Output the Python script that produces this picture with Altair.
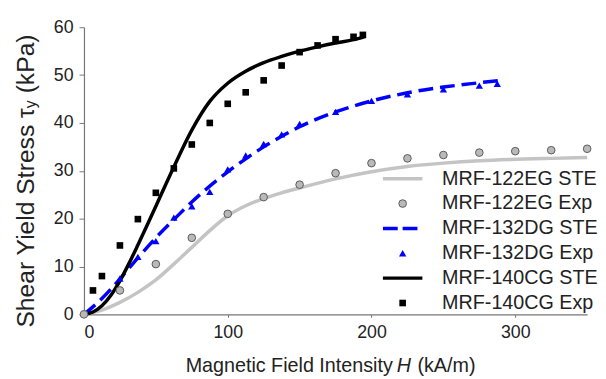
import altair as alt
import pandas as pd

# ---------------- data ----------------
# MRF-122EG
H_122_ste = [0, 12.5, 25, 37.5, 50, 62.5, 75, 87.5, 100, 112.5, 125, 137.5, 150, 175, 200, 225, 250, 275, 300, 325, 350]
T_122_ste = [0, 0.9, 2.5, 4.6, 7.2, 10.5, 14.0, 17.5, 20.6, 22.7, 24.2, 25.4, 26.4, 28.3, 29.8, 30.9, 31.6, 32.1, 32.4, 32.6, 32.8]
H_122_exp = [0, 25, 50, 75, 100, 125, 150, 175, 200, 225, 250, 275, 300, 325, 350]
T_122_exp = [0, 5.0, 10.5, 16.0, 21.0, 24.5, 27.1, 29.5, 31.6, 32.6, 33.3, 33.8, 34.1, 34.3, 34.6]

# MRF-132DG
H_132_ste = [0, 12.5, 25, 37.5, 50, 62.5, 75, 87.5, 100, 112.5, 125, 137.5, 150, 175, 200, 225, 250, 275, 290]
T_132_ste = [0, 3.3, 7.4, 11.8, 16.0, 19.8, 23.5, 26.8, 29.8, 32.5, 35.0, 37.2, 39.2, 42.3, 44.6, 46.3, 47.5, 48.4, 48.9]
H_132_exp = [25, 37.5, 50, 62.5, 75, 87.5, 100, 112.5, 125, 137.5, 150, 175, 200, 225, 250, 275, 287.5]
T_132_exp = [7.5, 12.0, 15.3, 20.2, 22.6, 25.6, 30.3, 33.2, 35.6, 37.6, 39.8, 42.3, 44.6, 46.0, 47.0, 47.8, 48.2]

# MRF-140CG
H_140_ste = [0, 6.25, 12.5, 18.75, 25, 31.25, 37.5, 43.75, 50, 62.5, 75, 87.5, 100, 112.5, 125, 137.5, 150, 162.5, 175, 187.5, 195]
T_140_ste = [0, 0.5, 1.8, 4.0, 7.0, 10.6, 14.5, 18.5, 22.6, 30.8, 38.5, 44.5, 48.3, 50.8, 52.6, 53.9, 55.0, 55.9, 56.7, 57.4, 58.0]
H_140_exp = [6.25, 12.5, 25, 37.5, 50, 62.5, 75, 87.5, 100, 112.5, 125, 137.5, 150, 162.5, 175, 187.5, 194]
T_140_exp = [5.0, 8.0, 14.4, 19.9, 25.4, 30.5, 35.5, 40.0, 44.0, 46.4, 48.9, 52.0, 54.8, 56.2, 57.5, 58.0, 58.4]

x_ticks = [0, 100, 200, 300]
y_ticks = [0, 10, 20, 30, 40, 50, 60]

legend_labels = ["MRF-122EG STE", "MRF-122EG Exp", "MRF-132DG STE",
                 "MRF-132DG Exp", "MRF-140CG STE", "MRF-140CG Exp"]

FONT = "Liberation Sans"
GRAY_LINE = "#c4c4c4"
GRAY_FILL = "#b9b9b9"
GRAY_EDGE = "#5a5a5a"
BLUE = "#0000ff"
BLACK = "#000000"

W, H = 510, 291

xs = alt.Scale(domain=[0, 350], nice=False, zero=False)
ys = alt.Scale(domain=[0, 60], nice=False)

x_axis = alt.Axis(values=x_ticks, title=None, grid=False, tickSize=3, labelPadding=6,
                  labelFontSize=18, labelFont=FONT, labelColor="#222222",
                  domainColor="#777777", tickColor="#777777", domainWidth=1.2)
y_axis = alt.Axis(values=y_ticks, title=None, grid=False, tickSize=5, labelPadding=6,
                  labelFontSize=18, labelFont=FONT, labelColor="#222222",
                  domainColor="#777777", tickColor="#777777", domainWidth=1.2)


def df(h, t):
    return pd.DataFrame({"H": h, "tau": t})


def enc(chart):
    return chart.encode(
        x=alt.X("H:Q", scale=xs, axis=x_axis),
        y=alt.Y("tau:Q", scale=ys, axis=y_axis),
    )


line122 = enc(alt.Chart(df(H_122_ste, T_122_ste)).mark_line(
    color=GRAY_LINE, strokeWidth=3.5, interpolate="monotone"))
line132 = enc(alt.Chart(df(H_132_ste, T_132_ste)).mark_line(
    color=BLUE, strokeWidth=3.5, strokeDash=[15, 7], interpolate="monotone"))
line140 = enc(alt.Chart(df(H_140_ste, T_140_ste)).mark_line(
    color=BLACK, strokeWidth=3.5, interpolate="monotone"))

pts140 = enc(alt.Chart(df(H_140_exp, T_140_exp)).mark_point(
    shape="square", filled=True, color=BLACK, size=45, opacity=1))
pts132 = enc(alt.Chart(df(H_132_exp, T_132_exp)).mark_point(
    shape="triangle-up", filled=True, color=BLUE, size=55, opacity=1))
pts122 = enc(alt.Chart(df(H_122_exp, T_122_exp)).mark_point(
    shape="circle", filled=True, fill=GRAY_FILL, stroke=GRAY_EDGE, strokeWidth=1,
    size=60, opacity=1))

layers = [line122, line132, line140, pts140, pts132, pts122]

# ---------------- legend (inside plot, right) ----------------
dummy = pd.DataFrame({"k": [0]})
row0, step = 153.5, 25.2
sym_x, line_x0, line_x1, text_x = 323, 303, 343, 363
styles = [
    ("line", dict(color=GRAY_LINE, strokeWidth=3.5)),
    ("pt", dict(shape="circle", filled=True, fill=GRAY_FILL, stroke=GRAY_EDGE, strokeWidth=1, size=60)),
    ("line", dict(color=BLUE, strokeWidth=3.5, strokeDash=[15, 5])),
    ("pt", dict(shape="triangle-up", filled=True, color=BLUE, size=55)),
    ("line", dict(color=BLACK, strokeWidth=3.5)),
    ("pt", dict(shape="square", filled=True, color=BLACK, size=45)),
]
for i, (lab, (kind, st)) in enumerate(zip(legend_labels, styles)):
    py = row0 + step * i
    if kind == "line":
        layers.append(alt.Chart(dummy).mark_rule(**st).encode(
            x=alt.value(line_x0), x2=alt.value(line_x1), y=alt.value(py)))
    else:
        layers.append(alt.Chart(dummy).mark_point(opacity=1, **st).encode(
            x=alt.value(sym_x), y=alt.value(py)))
    layers.append(alt.Chart(pd.DataFrame({"t": [lab]})).mark_text(
        align="left", baseline="middle", fontSize=20, font=FONT, color="#222222").encode(
        x=alt.value(text_x), y=alt.value(py), text="t:N"))

# ---------------- axis titles (with italic H and subscript y) ----------------
xt_y = 343
layers.append(alt.Chart(pd.DataFrame({"t": ["Magnetic Field Intensity"]})).mark_text(
    align="right", baseline="middle", fontSize=20, font=FONT, color="#222222").encode(
    x=alt.value(313), y=alt.value(xt_y), text="t:N"))
layers.append(alt.Chart(pd.DataFrame({"t": ["H"]})).mark_text(
    align="left", baseline="middle", fontSize=20, font=FONT, fontStyle="italic", color="#222222").encode(
    x=alt.value(317), y=alt.value(xt_y), text="t:N"))
layers.append(alt.Chart(pd.DataFrame({"t": ["(kA/m)"]})).mark_text(
    align="left", baseline="middle", fontSize=20, font=FONT, color="#222222").encode(
    x=alt.value(338), y=alt.value(xt_y), text="t:N"))

yt_x = -59
anchor = 82
layers.append(alt.Chart(pd.DataFrame({"t": ["Shear Yield Stress τ"]})).mark_text(
    align="right", baseline="middle", fontSize=25, font=FONT, angle=270, color="#222222").encode(
    x=alt.value(yt_x), y=alt.value(anchor), text="t:N"))
layers.append(alt.Chart(pd.DataFrame({"t": ["y"]})).mark_text(
    align="left", baseline="middle", fontSize=16, font=FONT, angle=270, color="#222222").encode(
    x=alt.value(yt_x + 5), y=alt.value(anchor), text="t:N"))
layers.append(alt.Chart(pd.DataFrame({"t": ["(kPa)"]})).mark_text(
    align="left", baseline="middle", fontSize=25, font=FONT, angle=270, color="#222222").encode(
    x=alt.value(yt_x), y=alt.value(anchor - 15), text="t:N"))

chart = alt.layer(*layers).properties(
    width=W, height=H,
    autosize=alt.AutoSizeParams(type="none"),
    padding={"left": 77, "top": 17, "right": 11, "bottom": 62},
).configure_view(stroke=None)

chart.save("out.html", embed_options={"renderer": "svg", "actions": False})
